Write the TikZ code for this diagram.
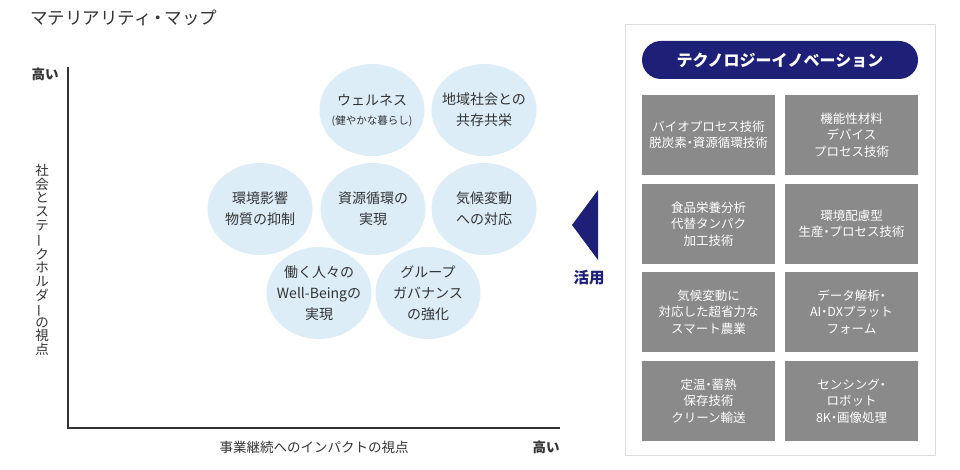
\documentclass[tikz,border=0pt]{standalone}
\usepackage{fontspec}
\setmainfont{Noto Sans CJK JP}
\usetikzlibrary{shapes.geometric}
\definecolor{navy}{HTML}{1E2078}
\definecolor{bubblefill}{HTML}{DDEDF8}
\definecolor{boxgray}{HTML}{8A8A8A}
\definecolor{txt}{HTML}{333333}
\definecolor{panelline}{HTML}{DDDDDD}
\newcommand{\vbarchar}{\rotatebox[origin=c]{90}{ー}}
\newcommand{\nd}{\kern-0.26em・\kern-0.26em}
\newcommand{\ndt}{\kern-0.12em・\kern-0.12em}
\begin{document}
\begin{tikzpicture}[x=1pt,y=-1pt,
  bubble/.style={ellipse, fill=bubblefill, minimum width=105pt, minimum height=92pt, inner sep=0pt},
  bubbletext/.style={align=center, inner sep=0pt, text=txt, font=\fontsize{14}{21}\selectfont},
  techbox/.style={rectangle, fill=boxgray, minimum width=133pt, minimum height=80pt, inner sep=0pt, align=center, text=white, font=\fontsize{12.5}{16.5}\selectfont},
  axislabel/.style={inner sep=0pt, text=txt, font=\fontsize{13.5}{13.6}\selectfont},
  highlabel/.style={inner sep=0pt, text=txt, font=\fontsize{13.5}{14}\selectfont\bfseries},
  axisline/.style={draw=txt, line width=1.3pt}
]
\useasboundingbox (0,0) rectangle (960,470);
\fill[white] (0,0) rectangle (960,470);

% title
\node[inner sep=0pt, anchor=west, text=txt, font=\fontsize{17.5}{20}\selectfont] (title) at (30,18) {マテリアリティ\ndt マップ};

% axes
\coordinate (origin) at (68,428);
\coordinate (ytop) at (68,67);
\coordinate (xend) at (560,428);
\draw[axisline] (ytop) -- (origin) -- (xend);
\node[highlabel] (yhigh) at (45,74) {高い};
\node[highlabel] (xhigh) at (546,447) {高い};
\node[axislabel] (xlabel) at (314,447) {事業継続へのインパクトの視点};
\node[axislabel, align=center] (ylabel) at (42,260) {社\\会\\と\\ス\\テ\\\vbarchar\\ク\\ホ\\ル\\ダ\\\vbarchar\\の\\視\\点};

% bubbles
\node[bubble] (b1) at (372,110) {};
\node[bubbletext] at (b1) {ウェルネス\\[-2pt]{\fontsize{10.5}{14}\selectfont (健やかな暮らし)}};
\node[bubble] (b2) at (484,110) {};
\node[bubbletext] at (b2) {地域社会との\\共存共栄};
\node[bubble] (b3) at (260,209) {};
\node[bubbletext] at (b3) {環境影響\\物質の抑制};
\node[bubble] (b4) at (373,209) {};
\node[bubbletext] at (b4) {資源循環の\\実現};
\node[bubble] (b5) at (484,209) {};
\node[bubbletext] at (b5) {気候変動\\への対応};
\node[bubble] (b6) at (319,293) {};
\node[bubbletext] at (b6) {働く人々の\\Well-Beingの\\実現};
\node[bubble] (b7) at (428,293) {};
\node[bubbletext] at (b7) {グループ\\ガバナンス\\の強化};

% arrow and label
\fill[navy] (598,190) -- (572,225) -- (598,260) -- cycle;
\node[inner sep=0pt, text=navy, font=\fontsize{15.5}{16}\selectfont\bfseries] (use) at (589,278) {活用};

% panel
\draw[panelline, line width=1pt] (625,25) rectangle (935,455);
\node[rectangle, rounded corners=19pt, fill=navy, minimum width=276pt, minimum height=38pt, inner sep=0pt, text=white, font=\fontsize{16}{18}\selectfont\bfseries] (pill) at (780,60) {テクノロジーイノベーション};

\node[techbox] (t1) at (708.5,135) {バイオプロセス技術\\脱炭素\nd 資源循環技術};
\node[techbox] (t2) at (851.5,135) {機能性材料\\デバイス\\プロセス技術};
\node[techbox] (t3) at (708.5,224) {食品栄養分析\\代替タンパク\\加工技術};
\node[techbox] (t4) at (851.5,224) {環境配慮型\\生産\nd プロセス技術};
\node[techbox] (t5) at (708.5,312) {気候変動に\\対応した超省力な\\スマート農業};
\node[techbox] (t6) at (851.5,312) {データ解析\nd\\AI\nd DXプラット\\フォーム};
\node[techbox] (t7) at (708.5,401) {定温\nd 蓄熱\\保存技術\\クリーン輸送};
\node[techbox] (t8) at (851.5,401) {センシング\nd\\ロボット\\8K\nd 画像処理};
\end{tikzpicture}
\end{document}
